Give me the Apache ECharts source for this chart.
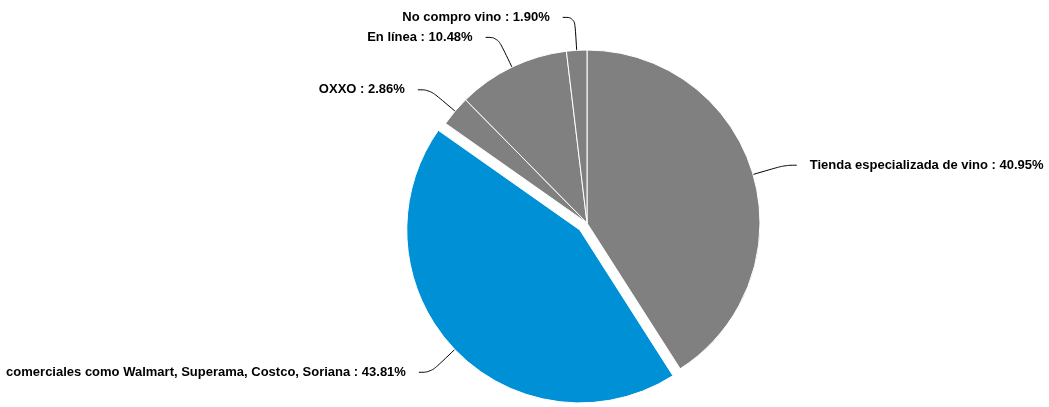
<!DOCTYPE html>
<html>
<head>
<meta charset="utf-8">
<script src="https://cdn.jsdelivr.net/npm/echarts@6/dist/echarts.min.js"></script>
<style>
  html, body { margin: 0; padding: 0; background: #ffffff; }
  #chart { width: 1049px; height: 407px; }
</style>
</head>
<body>
<div id="chart"></div>
<script>
// Where people buy wine (share of responses, %)
const categories = [
  'Tienda especializada de vino',
  'comerciales como Walmart, Superama, Costco, Soriana',
  'OXXO',
  'En línea',
  'No compro vino'
];
const shares = [40.95, 43.81, 2.86, 10.48, 1.90];
const sliceColors = ['#808080', '#0090d6', '#808080', '#808080', '#808080'];
const pulledOut = [false, true, false, false, false];

const chart = echarts.init(document.getElementById('chart'), null, { renderer: 'canvas' });

const data = categories.map((name, i) => ({
  name: name,
  value: shares[i],
  selected: pulledOut[i],
  itemStyle: { color: sliceColors[i] }
}));

chart.setOption({
  backgroundColor: '#ffffff',
  animation: false,
  series: [{
    type: 'pie',
    center: [587, 223],
    radius: [0, 173],
    startAngle: 90,
    clockwise: true,
    selectedMode: 'single',
    selectedOffset: 10,
    avoidLabelOverlap: true,
    data: data,
    itemStyle: { borderColor: '#ffffff', borderWidth: 1 },
    emphasis: { disabled: true },
    label: {
      show: true,
      position: 'outside',
      formatter: p => p.name + ' : ' + p.value.toFixed(2) + '%',
      fontFamily: 'Liberation Sans, Arial, sans-serif',
      fontWeight: 'bold',
      fontSize: 13,
      lineHeight: 15,
      color: '#000000',
      overflow: 'none',
      edgeDistance: 0,
      distanceToLabelLine: 13
    },
    labelLine: {
      show: true,
      length: 33,
      length2: 12,
      smooth: 0.4,
      lineStyle: { color: '#000000', width: 1 }
    }
  }]
});
</script>
</body>
</html>
